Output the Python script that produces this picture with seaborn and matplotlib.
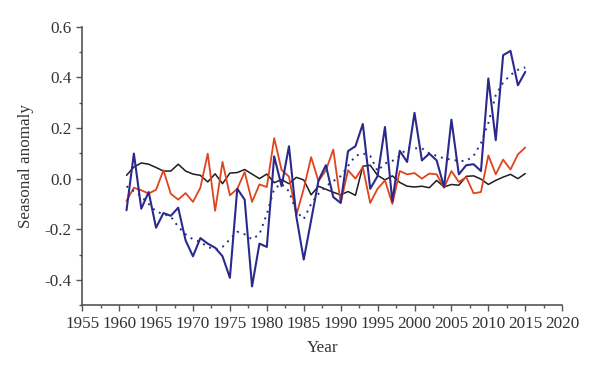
import numpy as np
import pandas as pd
import seaborn as sns
import matplotlib
matplotlib.use('Agg')
import matplotlib.pyplot as plt
from matplotlib.ticker import MultipleLocator

years = list(range(1961, 2016))

# navy series (large amplitude)
navy = [-0.125, 0.099, -0.119, -0.053, -0.194, -0.136, -0.147, -0.115, -0.244, -0.307,
        -0.235, -0.257, -0.273, -0.307, -0.392, -0.040, -0.083, -0.426, -0.257, -0.270,
        0.088, -0.030, 0.128, -0.150, -0.320, -0.165, -0.007, 0.053, -0.073, -0.096,
        0.109, 0.128, 0.216, -0.040, 0.010, 0.204, -0.090, 0.110, 0.066, 0.260,
        0.072, 0.099, 0.072, -0.033, 0.233, 0.017, 0.053, 0.057, 0.030, 0.396,
        0.152, 0.488, 0.505, 0.369, 0.422]

# dotted trend of the navy series
navy_trend = [-0.03, -0.05, -0.07, -0.10, -0.13, -0.14, -0.15, -0.19, -0.22, -0.24,
              -0.25, -0.27, -0.28, -0.27, -0.24, -0.21, -0.22, -0.24, -0.22, -0.14,
              -0.04, -0.02, -0.05, -0.13, -0.16, -0.10, -0.06, -0.03, -0.01, 0.01,
              0.05, 0.09, 0.10, 0.09, 0.03, 0.06, 0.07, 0.09, 0.12, 0.12,
              0.12, 0.10, 0.09, 0.08, 0.075, 0.07, 0.07, 0.09, 0.14, 0.22,
              0.33, 0.38, 0.41, 0.43, 0.44]

orange = [-0.088, -0.036, -0.046, -0.059, -0.044, 0.033, -0.060, -0.083, -0.057, -0.092,
          -0.036, 0.099, -0.127, 0.066, -0.066, -0.040, 0.026, -0.092, -0.023, -0.033,
          0.160, 0.034, 0.008, -0.145, -0.040, 0.085, -0.010, 0.033, 0.115, -0.096,
          0.033, 0.000, 0.046, -0.096, -0.040, -0.007, -0.100, 0.030, 0.017, 0.022,
          0.000, 0.020, 0.017, -0.036, 0.030, -0.013, 0.006, -0.058, -0.053, 0.092,
          0.017, 0.075, 0.036, 0.096, 0.123]

black = [0.013, 0.046, 0.062, 0.057, 0.044, 0.030, 0.030, 0.057, 0.030, 0.018,
         0.013, -0.013, 0.019, -0.020, 0.022, 0.024, 0.036, 0.018, 0.000, 0.018,
         -0.016, -0.004, -0.020, 0.005, -0.005, -0.064, -0.030, -0.042, -0.054, -0.064,
         -0.051, -0.066, 0.049, 0.053, 0.013, -0.005, 0.011, -0.015, -0.030, -0.033,
         -0.030, -0.036, -0.007, -0.033, -0.023, -0.026, 0.009, 0.011, -0.002, -0.023,
         -0.007, 0.006, 0.017, 0.000, 0.020]

df = pd.DataFrame({'year': years, 'navy': navy, 'trend': navy_trend,
                   'orange': orange, 'black': black})

sns.set_style('ticks')
plt.rcParams['font.family'] = ['Liberation Serif', 'DejaVu Serif']
plt.rcParams['axes.unicode_minus'] = False

fig = plt.figure(figsize=(6, 3.73), dpi=100)
ax = fig.add_axes([0.137, 0.182, 0.800, 0.746])

sns.lineplot(data=df, x='year', y='black', color='#1e1e1e', lw=1.1, ax=ax)
sns.lineplot(data=df, x='year', y='orange', color='#e0441c', lw=1.3, ax=ax)
sns.lineplot(data=df, x='year', y='navy', color='#2b2a8c', lw=1.5, ax=ax)
sns.lineplot(data=df, x='year', y='trend', color='#2b2a8c', lw=1.4,
             linestyle=(0, (1, 2.6)), ax=ax)

ax.set_xlim(1955, 2020)
ax.set_ylim(-0.5, 0.6)
ax.xaxis.set_major_locator(MultipleLocator(5))
ax.xaxis.set_minor_locator(MultipleLocator(2.5))
ax.yaxis.set_major_locator(MultipleLocator(0.2))
ax.yaxis.set_minor_locator(MultipleLocator(0.1))
ax.yaxis.set_major_formatter(matplotlib.ticker.FormatStrFormatter('%.1f'))

sns.despine(ax=ax)
for s in ['left', 'bottom']:
    ax.spines[s].set_color('#555555')
    ax.spines[s].set_linewidth(1.2)
ax.tick_params(which='major', length=4, width=1, color='#555555', labelsize=12.3,
               labelcolor='#333333')
ax.tick_params(which='minor', length=2.5, width=1, color='#555555')

ax.set_xlabel('Year', fontsize=12.3, color='#333333', labelpad=6)
ax.set_ylabel('Seasonal anomaly', fontsize=12.3, color='#333333', labelpad=8)

fig.savefig('out.png', dpi=100)
